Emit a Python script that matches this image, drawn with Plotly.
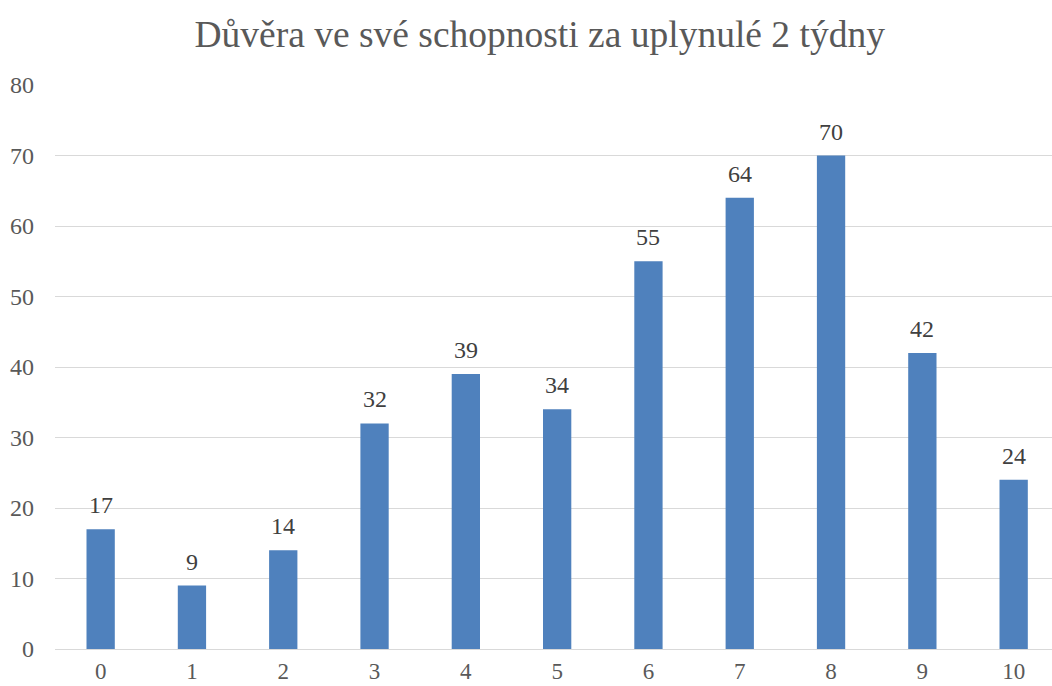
import plotly.graph_objects as go

# Confidence ratings (0-10) and number of responses
scores = ["0", "1", "2", "3", "4", "5", "6", "7", "8", "9", "10"]
counts = [17, 9, 14, 32, 39, 34, 55, 64, 70, 42, 24]
y_ticks = [0, 10, 20, 30, 40, 50, 60, 70, 80]

title_text = "Důvěra ve své schopnosti za uplynulé 2 týdny"
serif = "Liberation Serif"
x_pos = list(range(len(scores)))

fig = go.Figure(
    go.Bar(
        x=x_pos,
        y=counts,
        marker=dict(color="#4F81BD", line=dict(width=0)),
        width=0.31,
        hoverinfo="skip",
    )
)

# value labels above each bar
for xi, c in zip(x_pos, counts):
    fig.add_annotation(
        x=xi, y=c, text=str(c), showarrow=False,
        yanchor="bottom", yshift=9,
        font=dict(family=serif, size=24, color="#404040"),
    )

fig.update_layout(
    width=1052,
    height=686,
    margin=dict(l=55, r=0, t=85, b=37, autoexpand=False),
    paper_bgcolor="white",
    plot_bgcolor="white",
    showlegend=False,
    title=dict(
        text=title_text,
        x=0.513,
        xanchor="center",
        y=0.950,
        yanchor="middle",
        font=dict(family=serif, size=37.5, color="#595959"),
    ),
    xaxis=dict(
        tickmode="array",
        tickvals=x_pos,
        ticktext=scores,
        range=[-0.5, 10.42],
        showgrid=False,
        zeroline=False,
        showline=False,
        ticks="",
        automargin=False,
        ticklabelstandoff=6,
        tickfont=dict(family=serif, size=23, color="#595959"),
    ),
    yaxis=dict(
        range=[0, 80],
        tickvals=y_ticks,
        showgrid=True,
        gridcolor="#D9D9D9",
        gridwidth=1.4,
        zeroline=True,
        zerolinecolor="#D9D9D9",
        zerolinewidth=1.4,
        showline=False,
        ticks="",
        automargin=False,
        ticklabelstandoff=20,
        tickfont=dict(family=serif, size=24, color="#595959"),
    ),
)

fig.write_html("out.html")
